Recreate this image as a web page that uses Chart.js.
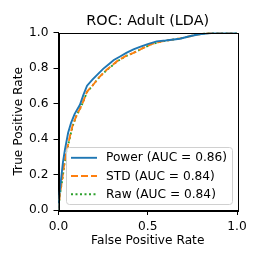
<!DOCTYPE html>
<html>
<head>
<meta charset="utf-8">
<script src="https://cdn.jsdelivr.net/npm/chart.js@4"></script>
<style>
  html, body { margin: 0; padding: 0; background: #fff; }
  #wrap { width: 262px; height: 262px; }
</style>
</head>
<body>
<div id="wrap"><canvas id="roc" width="262" height="262"></canvas></div>
<script>
/* =====================
   DATA
===================== */

const titleText = 'ROC: Adult (LDA)';
const xLabel = 'False Positive Rate';
const yLabel = 'True Positive Rate';
const seriesLabels = ['Power (AUC = 0.86)', 'STD (AUC = 0.84)', 'Raw (AUC = 0.84)'];

const powerFpr = [0, 0.005, 0.014, 0.025, 0.036, 0.054, 0.07, 0.09, 0.12, 0.14, 0.16, 0.19, 0.215, 0.25, 0.28, 0.31, 0.345, 0.38, 0.42, 0.46, 0.5, 0.55, 0.6, 0.68, 0.74, 0.79, 0.84, 0.89, 0.95, 1.0];
const powerTpr = [0, 0.09, 0.17, 0.27, 0.34, 0.435, 0.49, 0.54, 0.593, 0.65, 0.70, 0.735, 0.76, 0.795, 0.82, 0.845, 0.865, 0.885, 0.905, 0.92, 0.935, 0.95, 0.955, 0.965, 0.98, 0.99, 0.995, 1.0, 1.0, 1.0];

const stdFpr = [0, 0.007, 0.02, 0.032, 0.045, 0.065, 0.08, 0.1, 0.13, 0.16, 0.19, 0.23, 0.27, 0.33, 0.38, 0.42, 0.47, 0.52, 0.58, 0.64, 0.7, 0.76, 0.82, 0.88, 0.94, 1.0];
const stdTpr = [0, 0.08, 0.17, 0.26, 0.33, 0.42, 0.48, 0.53, 0.59, 0.667, 0.70, 0.75, 0.79, 0.84, 0.87, 0.885, 0.91, 0.935, 0.95, 0.96, 0.97, 0.985, 0.995, 1.0, 1.0, 1.0];

const rawFpr = [0, 0.007, 0.021, 0.033, 0.046, 0.066, 0.081, 0.1, 0.13, 0.16, 0.19, 0.23, 0.27, 0.33, 0.38, 0.42, 0.47, 0.52, 0.58, 0.64, 0.7, 0.76, 0.82, 0.88, 0.94, 1.0];
const rawTpr = [0, 0.08, 0.168, 0.258, 0.328, 0.418, 0.478, 0.53, 0.59, 0.665, 0.70, 0.75, 0.788, 0.838, 0.868, 0.885, 0.91, 0.934, 0.95, 0.96, 0.97, 0.985, 0.995, 1.0, 1.0, 1.0];

const xTicks = [0, 0.5, 1.0];
const yTicks = [0, 0.2, 0.4, 0.6, 0.8, 1.0];

const colors = ['#1f77b4', '#ff7f0e', '#2ca02c'];
const dashes = [[], [7, 3], [2, 2.5]];

/* =====================
   BUILD CHART
===================== */

function toPoints(xs, ys) {
    return xs.map((x, i) => ({ x: x, y: ys[i] }));
}

const FONT = 'DejaVu Sans';
const FS = 12.2;

// title centred on the axes, spines, and the boxed legend (lower right)
const frameAndLegend = {
    id: 'frameAndLegend',
    afterDraw(chart) {
        const ctx = chart.ctx;
        const a = chart.chartArea;

        ctx.save();
        ctx.fillStyle = '#000';
        ctx.font = '14.4px "' + FONT + '"';
        ctx.textAlign = 'center';
        ctx.textBaseline = 'alphabetic';
        ctx.fillText(titleText, (a.left + a.right) / 2, 24.5);
        ctx.restore();

        ctx.save();
        ctx.strokeStyle = '#000';
        ctx.lineWidth = 1;
        ctx.strokeRect(Math.round(a.left) + 0.5, Math.round(a.top) + 0.5,
                       Math.round(a.right - a.left), Math.round(a.bottom - a.top));
        ctx.restore();
    },
    afterDatasetsDraw(chart) {
        const ctx = chart.ctx;
        const lx = 66.5, ly = 147, lw = 166, lh = 57;
        ctx.save();
        ctx.fillStyle = 'rgba(255,255,255,0.8)';
        ctx.strokeStyle = '#d0d0d0';
        ctx.lineWidth = 1;
        ctx.beginPath();
        ctx.roundRect(lx, ly + 0.5, lw, lh, 3);
        ctx.fill();
        ctx.stroke();

        ctx.font = FS + 'px "' + FONT + '"';
        ctx.textBaseline = 'middle';
        ctx.fillStyle = '#000';
        chart.data.datasets.forEach((ds, i) => {
            const yy = 157.8 + i * 18.2;
            ctx.strokeStyle = ds.borderColor;
            ctx.lineWidth = ds.borderWidth;
            ctx.setLineDash(ds.borderDash);
            ctx.beginPath();
            ctx.moveTo(71, yy);
            ctx.lineTo(97, yy);
            ctx.stroke();
            ctx.setLineDash([]);
            ctx.fillText(ds.label, 106, yy + 0.5);
        });
        ctx.restore();
    }
};

const ctx = document.getElementById('roc').getContext('2d');

const chart = new Chart(ctx, {
    type: 'scatter',
    data: {
        datasets: [
            { label: seriesLabels[0], data: toPoints(powerFpr, powerTpr) },
            { label: seriesLabels[1], data: toPoints(stdFpr, stdTpr) },
            { label: seriesLabels[2], data: toPoints(rawFpr, rawTpr) }
        ].map((d, i) => Object.assign(d, {
            showLine: true,
            borderColor: colors[i],
            backgroundColor: colors[i],
            borderWidth: 1.9,
            borderDash: dashes[i],
            pointRadius: 0,
            tension: 0
        }))
    },
    options: {
        responsive: false,
        animation: false,
        devicePixelRatio: 1,
        layout: { padding: { top: 32.5, right: 25, left: 0, bottom: 0 } },
        plugins: {
            legend: { display: false },
            tooltip: { enabled: false },
            title: { display: false }
        },
        scales: {
            x: {
                type: 'linear',
                min: 0,
                max: 1,
                afterBuildTicks: s => { s.ticks = xTicks.map(v => ({ value: v })); },
                afterFit: s => { s.height = 52; },
                ticks: {
                    color: '#000',
                    font: { family: FONT, size: FS },
                    padding: 5,
                    maxRotation: 0,
                    callback: v => v.toFixed(1)
                },
                grid: { drawOnChartArea: false, drawTicks: true, tickLength: 5, color: '#000' },
                border: { display: true, color: '#000' },
                title: {
                    display: true,
                    text: xLabel,
                    color: '#000',
                    font: { family: FONT, size: FS },
                    padding: { top: 0, bottom: 13.5 }
                }
            },
            y: {
                type: 'linear',
                min: 0,
                max: 1,
                afterBuildTicks: s => { s.ticks = yTicks.map(v => ({ value: v })); },
                afterFit: s => { s.width = 58.5; },
                ticks: {
                    color: '#000',
                    font: { family: FONT, size: FS },
                    padding: 5,
                    callback: v => v.toFixed(1)
                },
                grid: { drawOnChartArea: false, drawTicks: true, tickLength: 5, color: '#000' },
                border: { display: true, color: '#000' },
                title: {
                    display: true,
                    text: yLabel,
                    color: '#000',
                    font: { family: FONT, size: FS },
                    padding: { top: 12, bottom: 0 }
                }
            }
        }
    },
    plugins: [frameAndLegend]
});
</script>
</body>
</html>
